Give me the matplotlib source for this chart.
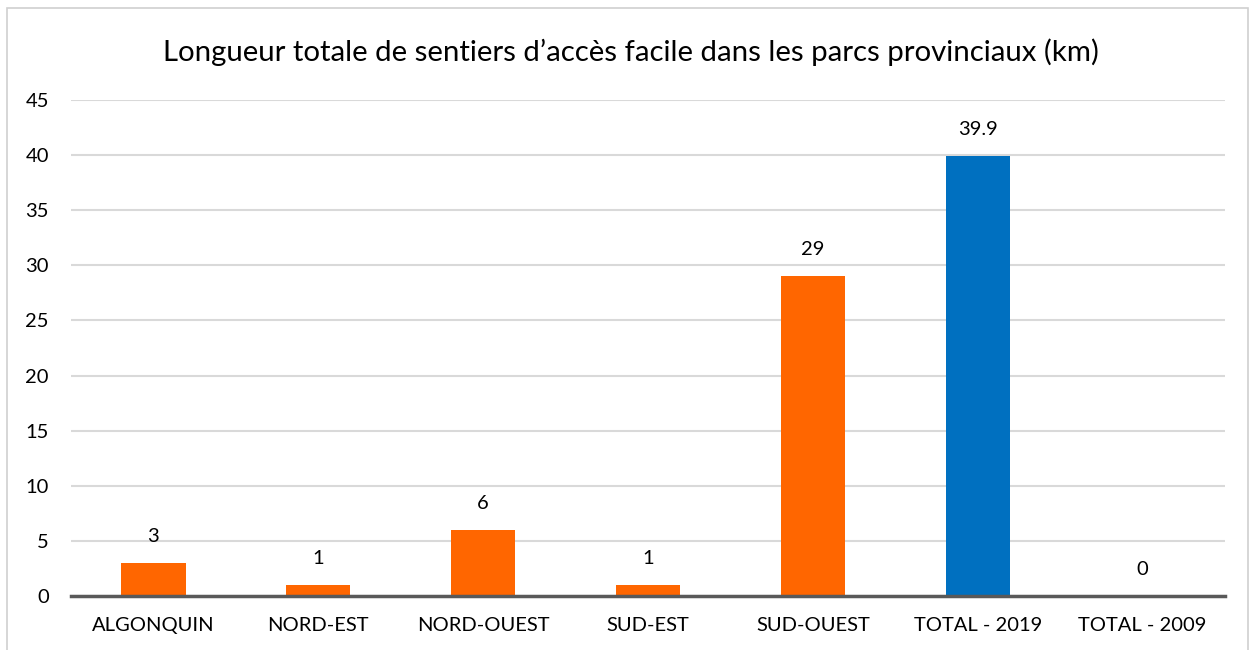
import matplotlib.pyplot as plt
from matplotlib.patches import Rectangle

categories = ['ALGONQUIN', 'NORD-EST', 'NORD-OUEST', 'SUD-EST', 'SUD-OUEST', 'TOTAL - 2019', 'TOTAL - 2009']
values = [3, 1, 6, 1, 29, 39.9, 0]
labels = ['3', '1', '6', '1', '29', '39.9', '0']
colors = ['#FF6600', '#FF6600', '#FF6600', '#FF6600', '#FF6600', '#0070C0', '#FF6600']

plt.rcParams['font.family'] = ['Lato', 'DejaVu Sans']

fig = plt.figure(figsize=(12.53, 6.5), dpi=100)
ax = fig.add_axes([0.0567, 0.0831, 0.921, 0.7629])

x = range(len(categories))
ax.bar(x, values, width=0.39, color=colors, zorder=3)

for xi, v, lab in zip(x, values, labels):
    ax.annotate(lab, (xi, v), xytext=(0, 13), textcoords='offset points',
                ha='center', va='bottom', fontsize=14.5, color='#000000')

ax.set_xlim(-0.5, len(categories) - 0.5)
ax.set_ylim(0, 45)
ax.set_yticks(range(0, 46, 5))
ax.set_xticks(list(x))
ax.set_xticklabels(categories)
ax.tick_params(axis='both', length=0, labelsize=14.5, colors='#000000')
ax.tick_params(axis='x', pad=15)
ax.tick_params(axis='y', pad=16)
ax.grid(axis='y', color='#D9D9D9', linewidth=1.5, zorder=0)
for s in ['top', 'right', 'left']:
    ax.spines[s].set_visible(False)
ax.spines['bottom'].set_color('#595959')
ax.spines['bottom'].set_linewidth(2.5)
ax.spines['bottom'].set_zorder(4)

fig.text(0.5036, 0.92, 'Longueur totale de sentiers d\u2019acc\u00e8s facile dans les parcs provinciaux (km)',
         ha='center', va='center', fontsize=21.2, color='#000000')

fig.patches.append(Rectangle((0.0056, -0.05), 0.9905, 1.0377, transform=fig.transFigure,
                             fill=False, edgecolor='#D0D0D0', linewidth=1.2))

fig.savefig('out.png', dpi=100)
